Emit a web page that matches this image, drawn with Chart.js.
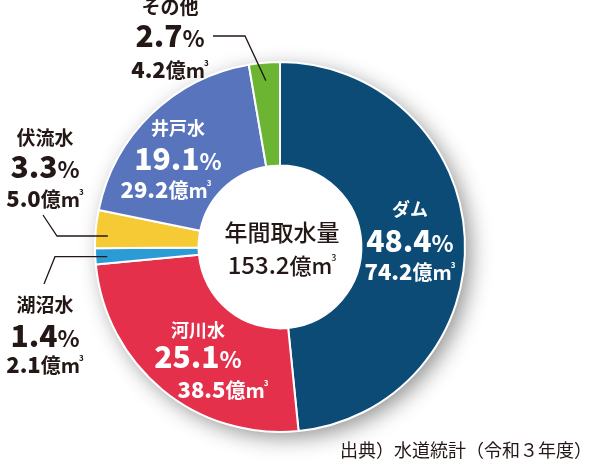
<!DOCTYPE html>
<html><head><meta charset="utf-8">
<script src="https://cdn.jsdelivr.net/npm/chart.js@4"></script>
<style>html,body{margin:0;padding:0;background:#fff}canvas{display:block}</style>
</head><body>
<canvas id="c" width="600" height="473"></canvas>
<script>
const categories = ['ダム','河川水','湖沼水','伏流水','井戸水','その他'];
const shares = [48.4, 25.1, 1.4, 3.3, 19.1, 2.7];
const volumes = ['74.2', '38.5', '2.1', '5.0', '29.2', '4.2'];
const totalLabel = '年間取水量';
const totalVolume = '153.2';
const sourceNote = '出典）水道統計（令和３年度）';
const colors = ['#0b4b76', '#e5304b', '#2b9bd6', '#f6ca35', '#5874bd', '#6bb532'];

const JP = '"Noto Sans CJK JP", "Noto Sans", sans-serif';
const DARK = '#231815';

function drawRich(ctx, x, y, parts, align) {
  let total = 0;
  parts.forEach(p => { ctx.font = p.font; p.w = ctx.measureText(p.text).width; total += p.w + (p.gap || 0); });
  let cx = align === 'center' ? x - total / 2 : (align === 'right' ? x - total : x);
  parts.forEach(p => {
    ctx.font = p.font; ctx.textAlign = 'left'; ctx.textBaseline = 'alphabetic';
    ctx.fillText(p.text, cx, y + (p.dy || 0));
    cx += p.w + (p.gap || 0);
  });
}
function volParts(v, size) {
  return [
    {text: v, font: `900 ${size}px ${JP}`},
    {text: '億', font: `bold ${Math.round(size*0.9)}px ${JP}`},
    {text: 'm', font: `bold ${Math.round(size*0.9)}px ${JP}`, gap: -1},
    {text: '3', font: `bold ${Math.round(size*0.35)}px ${JP}`, dy: -Math.round(size*0.55)}
  ];
}
function pctParts(v, size) {
  return [
    {text: v.toFixed(1), font: `900 ${size}px ${JP}`},
    {text: '%', font: `bold ${Math.round(size*0.75)}px ${JP}`}
  ];
}

const labelLayout = [
  {x: 410, name: 216, pct: 252, vol: 280, ns: 18, ps: 30, vs: 22, color: '#fff'},
  {x: 198, name: 337, pct: 368, vol: 398, ns: 18, ps: 30, vs: 22, color: '#fff', volx: 223},
  {x: 45, name: 312, pct: 347, vol: 373, ns: 19, ps: 30, vs: 22, color: DARK},
  {x: 45, name: 145, pct: 178, vol: 207, ns: 19, ps: 30, vs: 22, color: DARK},
  {x: 178, name: 135, pct: 170, vol: 198, ns: 18, ps: 30, vs: 22, color: '#fff', volx: 166},
  {x: 170, name: 14, pct: 47, vol: 78, ns: 19, ps: 30, vs: 22, color: DARK}
];

const shadowPlugin = {
  id: 'shadowDisk',
  beforeDatasetsDraw(chart) {
    const arc = chart.getDatasetMeta(0).data[0];
    const ctx = chart.ctx;
    ctx.save();
    ctx.shadowColor = 'rgba(0,0,0,0.45)';
    ctx.shadowBlur = 22;
    ctx.shadowOffsetX = 6;
    ctx.shadowOffsetY = 6;
    ctx.fillStyle = '#ffffff';
    ctx.beginPath();
    ctx.arc(arc.x, arc.y, arc.outerRadius - 1, 0, Math.PI * 2);
    ctx.fill();
    ctx.restore();
  }
};

function arcPoint(arc, r) {
  const a = (arc.startAngle + arc.endAngle) / 2;
  return {x: arc.x + Math.cos(a) * r, y: arc.y + Math.sin(a) * r};
}

const labelPlugin = {
  id: 'labels',
  afterDatasetsDraw(chart) {
    const ctx = chart.ctx;
    const meta = chart.getDatasetMeta(0);
    const a0 = meta.data[0];
    ctx.save();
    ctx.strokeStyle = DARK; ctx.lineWidth = 1.3;
    let p = arcPoint(meta.data[5], a0.outerRadius - 18);
    ctx.beginPath(); ctx.moveTo(213, 36); ctx.lineTo(245, 36); ctx.lineTo(p.x, p.y); ctx.stroke();
    p = arcPoint(meta.data[3], a0.outerRadius - 12);
    ctx.beginPath(); ctx.moveTo(43, 215); ctx.lineTo(57, 236); ctx.lineTo(p.x, 236); ctx.stroke();
    p = arcPoint(meta.data[2], a0.outerRadius - 12);
    ctx.beginPath(); ctx.moveTo(p.x, p.y + 1); ctx.lineTo(55, p.y + 1); ctx.lineTo(44, 284); ctx.stroke();

    labelLayout.forEach((L, i) => {
      ctx.fillStyle = L.color;
      ctx.font = `bold ${L.ns}px ${JP}`; ctx.textAlign = 'center'; ctx.textBaseline = 'alphabetic';
      ctx.fillText(categories[i], L.x, L.name);
      drawRich(ctx, L.x, L.pct, pctParts(shares[i], L.ps), 'center');
      drawRich(ctx, L.volx || L.x, L.vol, volParts(volumes[i], L.vs), 'center');
    });
    ctx.fillStyle = DARK;
    ctx.font = `500 23px ${JP}`; ctx.textAlign = 'center';
    ctx.fillText(totalLabel, a0.x + 2, 241);
    drawRich(ctx, a0.x + 2, 274, [
      {text: totalVolume, font: `500 24px ${JP}`},
      {text: '億m', font: `500 22px ${JP}`, gap: -1},
      {text: '3', font: `500 9px ${JP}`, dy: -13}
    ], 'center');
    ctx.font = `400 18px ${JP}`; ctx.textAlign = 'right';
    ctx.fillText(sourceNote, 592, 457);
    ctx.restore();
  }
};

new Chart(document.getElementById('c'), {
  type: 'doughnut',
  data: {
    labels: categories,
    datasets: [{
      data: shares,
      backgroundColor: colors,
      borderColor: '#ffffff',
      borderWidth: 2
    }]
  },
  options: {
    responsive: false,
    animation: false,
    devicePixelRatio: 1,
    cutout: '44%',
    layout: {padding: {left: 94, right: 134, top: 61, bottom: 40}},
    plugins: {legend: {display: false}, tooltip: {enabled: false}}
  },
  plugins: [shadowPlugin, labelPlugin]
});
</script>
</body></html>
